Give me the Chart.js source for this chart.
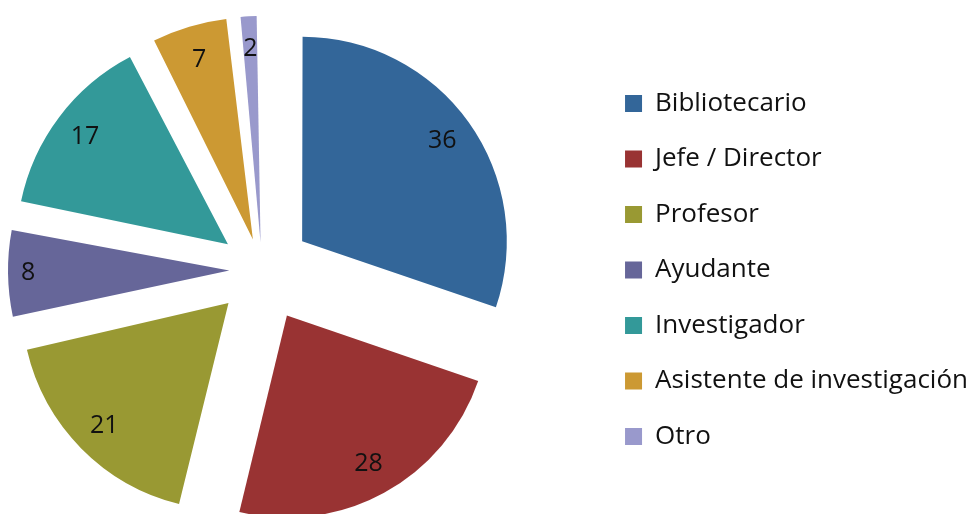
<!DOCTYPE html>
<html lang="es">
<head>
<meta charset="UTF-8">
<script src="https://cdn.jsdelivr.net/npm/chart.js"></script>
<style>
    html, body { margin: 0; padding: 0; background: #fff; }
    #wrap { width: 978px; height: 514px; }
</style>
</head>
<body>
<div id="wrap"><canvas id="pie"></canvas></div>
<script>
// Datos del gráfico
const categories = ['Bibliotecario', 'Jefe / Director', 'Profesor', 'Ayudante', 'Investigador', 'Asistente de investigación', 'Otro'];
const values = [36, 28, 21, 8, 17, 7, 2];
const colors = ['#336699', '#993333', '#999933', '#666699', '#339999', '#CC9933', '#9999CC'];

const total = values.reduce((a, b) => a + b, 0);
const gap = 52;          // separación de cada porción (px)
const pieRadius = 202;
const pieCenterX = 262;  // el área del gráfico queda a la izquierda de la leyenda
const labelRadius = [0.84, 0.84, 0.84, 0.9, 0.84, 0.83, 0.84]; // fracción del radio
const fontFamily = '"Open Sans", Lato, sans-serif';

// Chart.js desplaza offset/4*(1+fix); se corrige para que todas se separen igual
const sliceOffset = (ctx) => {
    const circ = values[ctx.dataIndex] / total * Math.PI * 2;
    const fix = 1 - Math.sin(Math.min(Math.PI, circ));
    return gap * 4 / (1 + fix);
};

// Mueve el centro del pastel (la leyenda deja un hueco grande a su izquierda)
const shiftArea = {
    id: 'shiftArea',
    afterLayout(chart) {
        const area = chart.chartArea;
        area.left = 2 * pieCenterX - area.right;
        area.width = area.right - area.left;
    }
};

// Etiquetas de valor dentro de cada porción
const valueLabels = {
    id: 'valueLabels',
    afterDatasetsDraw(chart) {
        const ctx = chart.ctx;
        const meta = chart.getDatasetMeta(0);
        ctx.save();
        ctx.font = '25px ' + fontFamily;
        ctx.fillStyle = '#111';
        ctx.textAlign = 'center';
        ctx.textBaseline = 'middle';
        meta.data.forEach((arc, i) => {
            const { x, y, startAngle, endAngle, outerRadius } = arc.getProps(['x', 'y', 'startAngle', 'endAngle', 'outerRadius'], true);
            const mid = (startAngle + endAngle) / 2;
            const r = gap + outerRadius * labelRadius[i];
            ctx.fillText(String(values[i]), x + Math.cos(mid) * r, y + Math.sin(mid) * r);
        });
        ctx.restore();
    }
};

new Chart(document.getElementById('pie'), {
    type: 'pie',
    data: {
        labels: categories,
        datasets: [{
            data: values,
            backgroundColor: colors,
            borderWidth: 0,
            offset: sliceOffset,
            hoverOffset: 0
        }]
    },
    options: {
        responsive: true,
        maintainAspectRatio: false,
        animation: false,
        radius: pieRadius,
        layout: { padding: { left: 0, top: 26, right: 0, bottom: 0 } },
        plugins: {
            tooltip: { enabled: false },
            legend: {
                position: 'right',
                labels: {
                    boxWidth: 17,
                    boxHeight: 17,
                    padding: 29.5,
                    color: '#111',
                    font: { family: fontFamily, size: 26 }
                }
            }
        }
    },
    plugins: [shiftArea, valueLabels]
});
</script>
</body>
</html>
